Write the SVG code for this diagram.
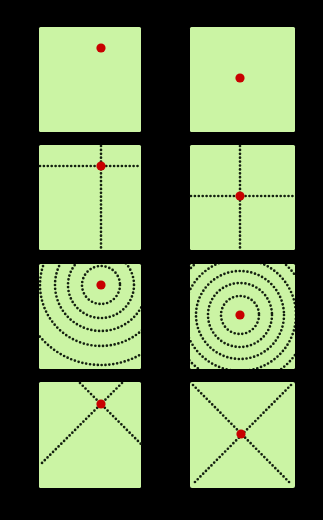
<svg xmlns="http://www.w3.org/2000/svg" width="323" height="520" viewBox="0 0 323 520">
<style>
.box{fill:#cbf4a4;stroke:none}
.dot{fill:#c80000}
.dl{fill:none;stroke:#142010;stroke-width:2.7;stroke-dasharray:0 3.9;stroke-linecap:round}
</style>
<defs>
<clipPath id="c5"><rect x="39" y="264" width="102" height="105"/></clipPath>
<clipPath id="c6"><rect x="190" y="264" width="105" height="105"/></clipPath>
</defs>
<rect width="323" height="520" fill="#000"/>
<g id="p1">
<rect class="box" x="39" y="27" width="102" height="105" rx="1.5"/>
<circle class="dot" cx="101" cy="48" r="4.6"/>
</g>
<g id="p2">
<rect class="box" x="190" y="27" width="105" height="105" rx="1.5"/>
<circle class="dot" cx="240" cy="78" r="4.6"/>
</g>
<g id="p3">
<rect class="box" x="39" y="145" width="102" height="105" rx="1.5"/>
<path class="dl" d="M40 166H141M101 146V250"/>
<circle class="dot" cx="101" cy="166" r="4.6"/>
</g>
<g id="p4">
<rect class="box" x="190" y="145" width="105" height="105" rx="1.5"/>
<path class="dl" d="M191 196H295M240 146V250"/>
<circle class="dot" cx="240" cy="196" r="4.6"/>
</g>
<g id="p5">
<rect class="box" x="39" y="264" width="102" height="105" rx="1.5"/>
<g clip-path="url(#c5)">
<circle class="dl" cx="101" cy="285" r="19"/>
<circle class="dl" cx="101" cy="285" r="33"/>
<circle class="dl" cx="101" cy="285" r="46"/>
<circle class="dl" cx="101" cy="285" r="61"/>
<circle class="dl" cx="101" cy="285" r="80"/>
</g>
<circle class="dot" cx="101" cy="285" r="4.6"/>
</g>
<g id="p6">
<rect class="box" x="190" y="264" width="105" height="105" rx="1.5"/>
<g clip-path="url(#c6)">
<circle class="dl" cx="240" cy="315" r="19"/>
<circle class="dl" cx="240" cy="315" r="32"/>
<circle class="dl" cx="240" cy="315" r="44"/>
<circle class="dl" cx="240" cy="315" r="56"/>
<circle class="dl" cx="240" cy="315" r="68"/>
</g>
<circle class="dot" cx="240" cy="315" r="4.6"/>
</g>
<g id="p7">
<rect class="box" x="39" y="382" width="102" height="106" rx="1.5"/>
<path class="dl" d="M80 383L141 444M122 383L40 465"/>
<circle class="dot" cx="101" cy="404" r="4.6"/>
</g>
<g id="p8">
<rect class="box" x="190" y="382" width="105" height="106" rx="2"/>
<path class="dl" d="M193 385L291 484M291 385L193 484"/>
<circle class="dot" cx="241" cy="434" r="4.6"/>
</g>
</svg>
